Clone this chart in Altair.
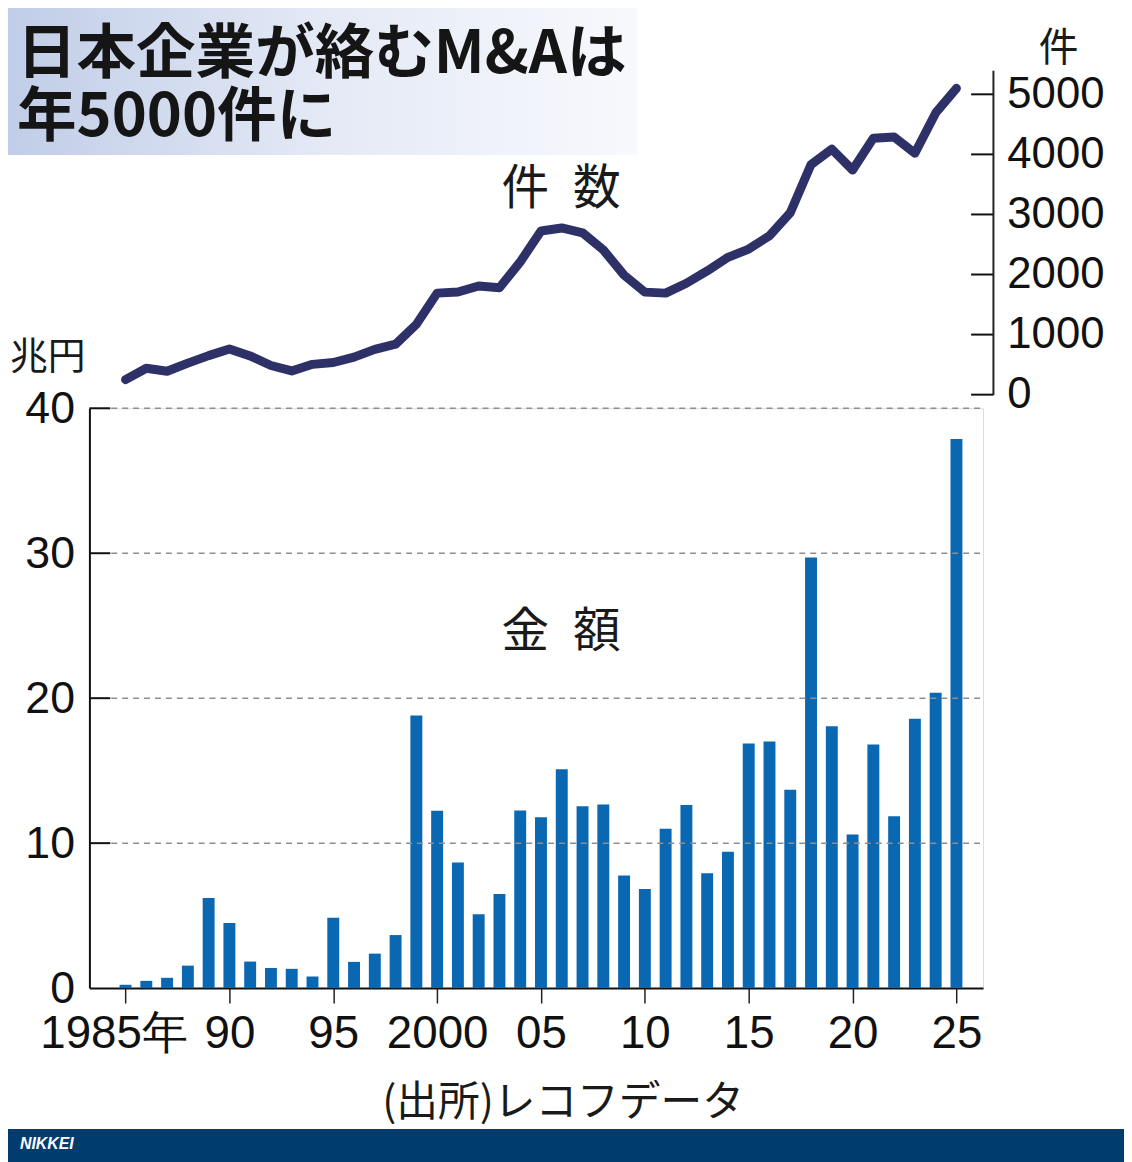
import altair as alt
import pandas as pd

# ---- data ----
years = list(range(1985, 2026))
amount = [0.23, 0.5, 0.71, 1.55, 6.22, 4.5, 1.83, 1.39, 1.33, 0.8,
          4.85, 1.81, 2.38, 3.66, 18.81, 12.23, 8.66, 5.1, 6.49, 12.25,
          11.78, 15.1, 12.54, 12.67, 7.77, 6.83, 11.0, 12.64, 7.93, 9.4,
          16.88, 17.02, 13.69, 29.71, 18.06, 10.6, 16.81, 11.86, 18.59, 20.37,
          37.88]
counts = [250, 440, 390, 525, 650, 760, 645, 485, 395, 505,
          535, 625, 755, 840, 1170, 1690, 1710, 1810, 1780, 2210,
          2725, 2775, 2695, 2410, 1990, 1707, 1690, 1855, 2060, 2286,
          2424, 2645, 3030, 3830, 4088, 3740, 4270, 4290, 4020, 4690,
          5100]
amount_ticks = [0, 10, 20, 30, 40]
count_ticks = [0, 1000, 2000, 3000, 4000, 5000]
year_ticks = [1985, 1990, 1995, 2000, 2005, 2010, 2015, 2020, 2025]

title1 = "日本企業が絡むM&Aは"
title2 = "年5000件に"
count_label = "件\u2002数"
amount_label = "金\u2002額"
amount_unit = "兆円"
count_unit = "件"
source = "(出所)レコフデータ"
brand = "NIKKEI"

df = pd.DataFrame({"year": years, "amount": amount, "count": counts})
grid_df = pd.DataFrame({"v": [t for t in amount_ticks if t > 0]})
cticks_df = pd.DataFrame({"v": count_ticks})
one = pd.DataFrame({"a": [0]})

NUM_FONT = "Liberation Sans"
JP_FONT = "Noto Sans CJK JP"

xscale = alt.Scale(domain=[1983.5, 2026.04], nice=False, zero=False)
yA = alt.Scale(domain=[0, 40], nice=False)
yC = alt.Scale(domain=[0, 5400], nice=False, range=[-13.7, -340.4])

# title background
title_bg = alt.Chart(one).mark_rect(
    fill=alt.Gradient(gradient="linear", x1=0, x2=1, y1=0, y2=0,
                      stops=[alt.GradientStop(color="#c0cce7", offset=0),
                             alt.GradientStop(color="#e3e9f5", offset=0.5),
                             alt.GradientStop(color="#f8f9fd", offset=1)])
).encode(x=alt.value(-90), x2=alt.value(552), y=alt.value(-407), y2=alt.value(-255))

footer = alt.Chart(one).mark_rect(fill="#003c6e").encode(
    x=alt.value(-90), x2=alt.value(1042), y=alt.value(726), y2=alt.value(760))

bars = alt.Chart(df).mark_bar(color="#0a67b2", size=12).encode(
    x=alt.X("year:Q", scale=xscale,
            axis=alt.Axis(values=year_ticks, title=None, grid=False, format="d",
                          domain=True, domainColor="#111", domainWidth=2,
                          ticks=True, tickColor="#222", tickWidth=1.5, tickSize=15,
                          labelFont=NUM_FONT, labelFontSize=46, labelColor="#111",
                          labelPadding=9, labelFlush=False, labelOverlap=False, labelLimit=400,
                          labelExpr="datum.value == 1985 ? '1985年' : (datum.value == 2000 ? '2000' : substring(toString(datum.value), 2, 4))",
                          labelOffset={"condition": {"test": "datum.value == 1985", "value": -12}, "value": 0})),
    y=alt.Y("amount:Q", scale=yA,
            axis=alt.Axis(values=amount_ticks, title=None, grid=False, format="d",
                          domain=True, domainColor="#111", domainWidth=2,
                          ticks=False, labelFont=NUM_FONT, labelFontSize=45,
                          labelColor="#111", labelPadding=15, labelOverlap=False,
                          labelFlush=False, labelLimit=400)),
)

grid = alt.Chart(grid_df).mark_rule(color="#8e8e8e", strokeWidth=1.5, strokeDash=[6, 5]).encode(
    y=alt.Y("v:Q", scale=yA, axis=None), x=alt.value(22), x2=alt.value(900))
lticks = alt.Chart(grid_df).mark_rule(color="#111", strokeWidth=2).encode(
    y=alt.Y("v:Q", scale=yA, axis=None), x=alt.value(0), x2=alt.value(21))

line = alt.Chart(df).mark_line(color="#2e3068", strokeWidth=9, strokeCap="round", strokeJoin="round").encode(
    x=alt.X("year:Q", scale=xscale),
    y=alt.Y("count:Q", scale=yC,
            axis=alt.Axis(orient="right", values=count_ticks, title=None, grid=False, format="d",
                          offset=10, domain=True, domainColor="#222", domainWidth=2,
                          ticks=False, labelFont=NUM_FONT, labelFontSize=44,
                          labelColor="#111", labelPadding=14, labelOverlap=False,
                          labelFlush=False, labelLimit=400)),
)
rticks = alt.Chart(cticks_df).mark_rule(color="#111", strokeWidth=2).encode(
    y=alt.Y("v:Q", scale=yC, axis=None), x=alt.value(888), x2=alt.value(910))

def label(txt, x, y, size, align="left", weight="normal", color="#1a1a1a", font=JP_FONT, style="normal"):
    return alt.Chart(one).mark_text(text=txt, font=font, fontSize=size, fontWeight=weight,
                                    fontStyle=style, align=align, baseline="alphabetic",
                                    color=color).encode(x=alt.value(x), y=alt.value(y))

texts = [
    label(title1, -73, -338, 60, weight="bold", color="#151515"),
    label(title2, -73, -274, 60, weight="bold", color="#151515"),
    label(count_label, 475, -206, 48, align="center"),
    label(amount_label, 475, 240, 48, align="center"),
    label(amount_unit, -80, -40, 38),
    label(count_unit, 976, -350, 40, align="center"),
    label(source, 477, 713, 42, align="center"),
    label(brand, -70, 746, 16, weight="bold", color="white", font="Liberation Sans", style="italic"),
]

chart = alt.layer(title_bg, footer, bars, grid, lticks, line, rticks, *texts).resolve_scale(
    y="independent"
).properties(
    width=900, height=584,
    autosize=alt.AutoSizeParams(type="none"),
    padding={"left": 82, "top": 399, "right": 142, "bottom": 171},
).configure_view(stroke=None).configure(background="white")

chart.save("out.html", embed_options={"renderer": "svg", "actions": False})
